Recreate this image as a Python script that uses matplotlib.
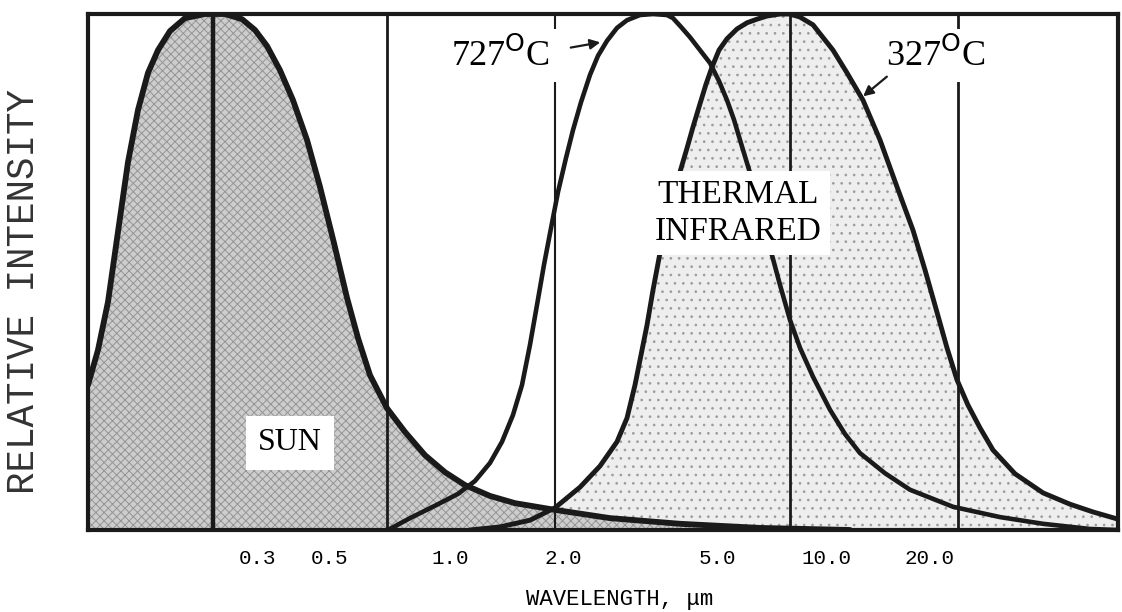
import matplotlib
matplotlib.use("Agg")
import matplotlib.pyplot as plt

plt.rcParams["hatch.linewidth"] = 0.7

# ---- data: schematic position along the wavelength axis (0..1030) and relative intensity (%) ----
sun_pos = [0, 10, 20, 30, 40, 50, 60, 70, 82, 97, 117, 137, 154, 167, 179, 192, 205, 219,
           232, 246, 259, 270, 282, 299, 317, 337, 357, 377, 402, 427, 467, 522, 592, 672, 762]
sun_int = [28.1, 34.9, 44.2, 57.8, 71.3, 81.4, 88.6, 93.0, 96.7, 99.2, 100, 100, 99.0, 96.9,
           93.8, 89.1, 83.3, 75.6, 66.5, 55.6, 45.0, 37.2, 30.0, 23.6, 19.0, 14.5, 11.2, 8.7,
           6.6, 5.2, 3.9, 2.3, 1.2, 0.4, 0.0]

t727_pos = [300, 322, 347, 370, 387, 402, 414, 425, 434, 442, 449, 456, 463, 470, 478, 485,
            493, 502, 510, 519, 529, 539, 552, 565, 579, 585, 593, 602, 612, 622, 631, 639,
            646, 652, 662, 672, 682, 692, 702, 712, 725, 742, 757, 772, 797, 822, 865, 912,
            955, 1002, 1030]
t727_int = [0.0, 2.3, 4.7, 7.0, 9.5, 13.0, 17.1, 22.3, 28.1, 35.9, 43.6, 51.4, 58.5, 65.5,
            72.1, 77.5, 82.9, 88.2, 91.9, 94.8, 97.3, 98.8, 99.8, 100, 99.8, 99.2, 97.5, 95.5,
            93.0, 90.5, 87.0, 83.3, 79.5, 75.6, 69.2, 61.6, 54.7, 47.5, 40.7, 35.3, 29.7,
            23.3, 18.6, 14.9, 11.0, 7.8, 4.5, 2.5, 1.2, 0.2, 0.0]

t327_pos = [382, 412, 442, 467, 492, 512, 529, 539, 547, 553, 559, 565, 572, 579, 586, 592,
            599, 605, 612, 618, 624, 631, 639, 649, 659, 669, 679, 692, 702, 712, 725, 745,
            759, 775, 792, 809, 825, 837, 849, 859, 869, 880, 892, 905, 927, 955, 982, 1005,
            1030]
t327_int = [0.0, 0.6, 1.9, 4.3, 8.3, 12.4, 17.1, 21.7, 28.1, 33.9, 39.7, 46.5, 53.7, 59.7,
            65.1, 69.4, 74.0, 78.1, 82.6, 86.4, 89.7, 93.0, 95.2, 97.1, 98.3, 99.0, 99.6, 100,
            100, 99.4, 97.9, 93.0, 88.6, 83.3, 75.6, 66.5, 58.1, 50.4, 42.2, 35.3, 29.1, 24.2,
            19.8, 15.5, 10.9, 7.2, 5.0, 3.5, 2.1]

divider_pos = [125, 299, 467, 702, 870]
divider_lw = [3.2, 2.0, 1.5, 2.0, 2.0]

tick_pos = [169, 242, 362, 475, 629, 738, 842]
tick_labels = ["0.3", "0.5", "1.0", "2.0", "5.0", "10.0", "20.0"]

W, H = 1122, 612
fig = plt.figure(figsize=(W / 100, H / 100), dpi=100)
ax = fig.add_axes([88 / W, 1 - 530 / H, (1118 - 88) / W, (530 - 14) / H])
ax.set_xlim(0, 1030)
ax.set_ylim(0, 100)

# fills
ax.fill_between(t327_pos, t327_int, 0, facecolor="#eeeeee", edgecolor="#9c9c9c",
                hatch="..", linewidth=0, zorder=1)
ax.fill_between(sun_pos, sun_int, 0, facecolor="#cdcdcd", edgecolor="#959595",
                hatch="xxxx", linewidth=0, zorder=2)

# divider lines
for p, lw in zip(divider_pos, divider_lw):
    ax.axvline(p, color="#1a1a1a", lw=lw, zorder=3)

# curves
kw = dict(color="#1a1a1a", zorder=4, solid_joinstyle="round", solid_capstyle="round")
ax.plot(sun_pos, sun_int, lw=4.2, **kw)
ax.plot(t727_pos, t727_int, lw=3.3, **kw)
ax.plot(t327_pos, t327_int, lw=3.5, **kw)

for s in ax.spines.values():
    s.set_linewidth(3.0)
    s.set_color("#1a1a1a")
ax.set_yticks([])
ax.set_xticks(tick_pos)
ax.set_xticklabels(tick_labels, family="Liberation Mono", fontsize=15)
ax.tick_params(axis="x", length=0, pad=14)

serif = "Liberation Serif"
ax.text(412, 91.9, "727$^{\\mathrm{O}}$C", family=serif, fontsize=26, ha="center",
        va="center", bbox=dict(facecolor="white", edgecolor="none", pad=6), zorder=6)
ax.annotate("", xy=(515, 94.6), xytext=(480, 93.4),
            arrowprops=dict(arrowstyle="-|>", color="#1a1a1a", lw=1.6, mutation_scale=15),
            zorder=6)
ax.text(848, 91.9, "327$^{\\mathrm{O}}$C", family=serif, fontsize=26, ha="center",
        va="center", bbox=dict(facecolor="white", edgecolor="none", pad=6), zorder=6)
ax.annotate("", xy=(773, 83.7), xytext=(801, 88.2),
            arrowprops=dict(arrowstyle="-|>", color="#1a1a1a", lw=1.6, mutation_scale=15),
            zorder=6)
ax.text(650, 61.4, "THERMAL\nINFRARED", family=serif, fontsize=24, ha="center",
        va="center", linespacing=1.25,
        bbox=dict(facecolor="white", edgecolor="none", pad=6), zorder=6)
ax.text(202, 16.9, "SUN", family=serif, fontsize=23, ha="center", va="center",
        bbox=dict(facecolor="white", edgecolor="none", pad=9), zorder=6)

fig.text(24 / W, 1 - 291 / H, "RELATIVE INTENSITY", family="Liberation Mono",
         fontsize=27, rotation=90, ha="center", va="center", color="#333333")
fig.text(620 / W, 1 - 600 / H, "WAVELENGTH, μm", family="Liberation Mono",
         fontsize=16, ha="center", va="center")

fig.savefig("out.png", dpi=100)
